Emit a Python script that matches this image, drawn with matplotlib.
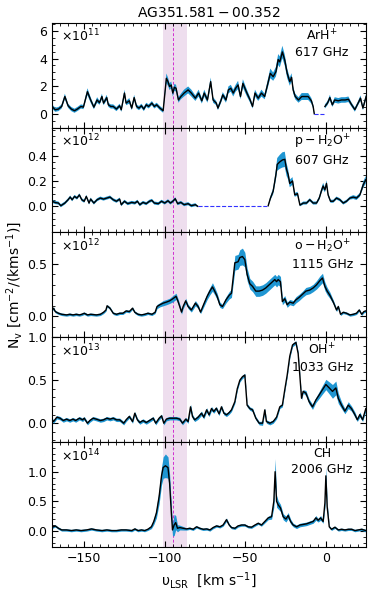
import numpy as np
import matplotlib
matplotlib.use('Agg')
import matplotlib.pyplot as plt
from matplotlib.ticker import MultipleLocator, AutoMinorLocator

# ---- ArH+ 617 GHz (x1e11) ----
v_arh = [-170, -168, -166, -164, -162, -160, -158, -156, -154, -152, -150.5, -148, -146, -144, -142,
         -140.5, -139, -138, -136, -135, -133.5, -132, -130, -128, -127, -125, -124, -122, -120.5, -119,
         -117.5, -116, -114.5, -113, -111.5, -110, -108, -106.5, -105, -103, -101, -99, -98, -97, -96,
         -95, -94, -93, -91.5, -90, -88, -85.5, -83.5, -81, -79, -77, -75.5, -73.5, -71.5, -70,
         -68, -67, -65, -64, -62, -60.5, -59, -57.5, -56, -54.5, -53, -51.5, -49, -47, -45.5,
         -44, -42, -40, -38, -36, -34.5, -32.7, -31, -29.6, -28.6, -27, -25.5, -24, -22.4, -21.3,
         -20.3, -19, -17, -15, -13, -11, -9, -7.9, -7.2, -4, -0.6, 1, 2.5, 4, 5.5,
         7.7, 9.7, 12, 14, 16, 18, 20, 21.5, 23, 25]
n_arh = [0.53, 0.29, 0.34, 0.53, 1.25, 0.58, 0.34, 0.22, 0.36, 0.53, 0.48, 1.6, 1.0, 0.48, 1.0,
         0.8, 1.25, 0.77, 1.17, 0.65, 0.53, 0.53, 0.34, 0.58, 0.29, 1.5, 0.77, 0.94, 0.41, 1.17,
         0.53, 0.41, 0.58, 0.34, 0.65, 0.53, 0.77, 0.53, 0.65, 0.41, 0.22, 2.57, 2.33, 1.97, 2.09,
         1.5, 1.92, 1.85, 1.0, 1.25, 1.5, 1.73, 1.5, 1.13, 1.5, 0.94, 1.5, 1.0, 2.33, 1.0,
         0.77, 0.41, 1.0, 1.37, 1.0, 1.73, 1.85, 1.5, 1.85, 2.09, 1.25, 2.2, 1.5, 1.0, 0.53,
         1.5, 1.13, 1.5, 1.25, 2.2, 2.93, 2.69, 3.05, 3.93, 3.76, 4.48, 3.88, 2.93, 2.33, 2.64,
         1.73, 1.25, 1.0, 1.25, 1.25, 1.25, 0.94, 0.53, 0.0, np.nan, 0.53, 0.77, 1.17, 0.65, 1.0,
         0.94, 1.0, 1.0, 1.05, 0.65, 0.3, 0.77, 1.13, 0.41, 1.25]
e_arh = [0.15, 0.15, 0.15, 0.15, 0.2, 0.15, 0.15, 0.15, 0.15, 0.15, 0.15, 0.25, 0.2, 0.15, 0.2,
         0.15, 0.2, 0.15, 0.2, 0.15, 0.15, 0.15, 0.15, 0.15, 0.15, 0.25, 0.15, 0.2, 0.15, 0.2,
         0.15, 0.15, 0.15, 0.15, 0.15, 0.15, 0.15, 0.15, 0.15, 0.15, 0.15, 0.35, 0.3, 0.25, 0.25,
         0.25, 0.25, 0.25, 0.2, 0.2, 0.25, 0.25, 0.25, 0.2, 0.25, 0.2, 0.25, 0.2, 0.3, 0.2,
         0.15, 0.15, 0.2, 0.2, 0.2, 0.25, 0.25, 0.25, 0.25, 0.3, 0.2, 0.3, 0.25, 0.2, 0.15,
         0.25, 0.2, 0.25, 0.2, 0.3, 0.35, 0.3, 0.35, 0.4, 0.4, 0.45, 0.4, 0.35, 0.3, 0.3,
         0.25, 0.2, 0.2, 0.25, 0.25, 0.25, 0.2, 0.15, 0.1, np.nan, 0.15, 0.15, 0.2, 0.15, 0.2,
         0.2, 0.2, 0.2, 0.2, 0.15, 0.15, 0.15, 0.2, 0.15, 0.2]

# ---- p-H2O+ 607 GHz (x1e12) ----
v_ph2o = [-170, -168, -166, -164.5, -162, -160, -158.7, -157.5, -156, -154.5, -153, -151.5, -150, -148.7, -147,
          -146, -144, -142, -140, -138, -136, -134, -132, -130, -128, -127, -125, -123, -120.5, -118.5,
          -117, -115.5, -113.5, -111.5, -109.5, -108, -106.5, -104, -102, -100, -98, -96.5, -95, -93.5, -92,
          -90, -88, -85.5, -83.5, -81, -79.5, -60, -35.8, -34.4, -32.7, -31, -30.2, -28.6, -27, -25.5,
          -24.4, -23.4, -22.4, -20.7, -19.3, -17.6, -16.1, -14, -12, -10, -7.9, -5.8, -4.1, -2.7, -1.7,
          -0.6, 0.4, 1.4, 2.9, 4.6, 6.6, 8.7, 10.8, 12.8, 14.9, 17, 19, 21.1, 23.2, 24.8]
n_ph2o = [0.04, 0.03, 0.026, 0.005, 0.026, 0.052, 0.073, 0.052, 0.078, 0.065, 0.09, 0.052, 0.04, 0.078, 0.026,
          0.057, 0.026, 0.052, 0.065, 0.057, 0.065, 0.073, 0.052, 0.04, 0.057, 0.013, 0.04, 0.021, 0.031, 0.026,
          0.04, 0.013, 0.031, 0.021, 0.04, 0.047, 0.026, 0.021, 0.04, 0.026, 0.044, 0.026, 0.04, 0.06, 0.021,
          0.031, 0.013, 0.021, 0.005, 0.013, 0.0, np.nan, 0.005, 0.065, 0.12, 0.25, 0.33, 0.35, 0.365, 0.37,
          0.29, 0.25, 0.18, 0.2, 0.09, 0.1, 0.01, 0.026, 0.026, 0.052, 0.026, 0.026, 0.065, 0.125, 0.16,
          0.13, 0.18, 0.09, 0.04, 0.04, 0.065, 0.052, 0.026, 0.04, 0.065, 0.073, 0.065, 0.09, 0.17, 0.21]
e_ph2o = [0.012] * 50 + [0.005, np.nan, 0.008, 0.015, 0.025, 0.04, 0.05, 0.055, 0.06, 0.06,
                         0.05, 0.04, 0.03, 0.03, 0.015, 0.015, 0.01, 0.012, 0.012, 0.012, 0.012, 0.012, 0.015, 0.02, 0.025,
                         0.02, 0.025, 0.015, 0.012, 0.012, 0.012, 0.012, 0.012, 0.012, 0.012, 0.015, 0.015, 0.015, 0.025, 0.03]

# ---- o-H2O+ 1115 GHz (x1e12) ----
v_oh2o = [-170, -169, -168, -166, -164, -161, -159, -157, -155, -153, -151.5, -150, -148, -146, -142.5,
          -140, -138, -136.5, -135.8, -134, -132, -130, -128, -126, -124, -122, -120, -118.6, -116.6, -114.5,
          -112.5, -110.5, -108, -106, -104.8, -103, -101, -99, -97, -95, -93, -91.7, -89.6, -88.6, -87,
          -85.5, -83.5, -81, -79.3, -77.8, -75.8, -73.7, -72, -70.4, -69, -67.5, -65.8, -64.2, -62, -60,
          -58.6, -56.5, -54.5, -53.4, -51.8, -50.3, -48.9, -47.2, -45.5, -43.5, -41.4, -39.3, -37.3, -35.2, -33.1,
          -31.7, -30.6, -29.6, -28.2, -27, -25.5, -24, -22.4, -20.3, -18.6, -16.6, -14.5, -12.4, -10, -7.9,
          -5.8, -3.7, -2.1, -0.6, 0.8, 2.5, 4.6, 6.6, 7.7, 9.1, 10.8, 12.8, 14.9, 17, 19,
          20.7, 22.2, 23.6, 24.8]
n_oh2o = [0.06, 0.077, 0.045, 0.029, 0.019, 0.013, 0.019, 0.013, 0.019, 0.013, 0.019, 0.029, 0.013, 0.019, 0.013,
          0.019, 0.038, 0.06, 0.1, 0.077, 0.029, 0.019, 0.029, 0.029, 0.051, 0.045, 0.077, 0.038, 0.019, 0.013,
          0.019, 0.029, 0.019, 0.038, 0.093, 0.11, 0.125, 0.135, 0.147, 0.167, 0.19, 0.14, 0.04, 0.093, 0.147,
          0.093, 0.06, 0.125, 0.093, 0.04, 0.115, 0.19, 0.24, 0.28, 0.24, 0.19, 0.11, 0.093, 0.157, 0.2,
          0.22, 0.51, 0.52, 0.56, 0.57, 0.54, 0.4, 0.31, 0.285, 0.24, 0.24, 0.25, 0.27, 0.3, 0.33,
          0.35, 0.33, 0.35, 0.33, 0.14, 0.167, 0.11, 0.135, 0.125, 0.157, 0.18, 0.21, 0.24, 0.25, 0.27,
          0.3, 0.34, 0.365, 0.285, 0.24, 0.2, 0.135, 0.06, 0.093, 0.019, 0.038, 0.029, 0.013, 0.019, 0.029,
          0.06, 0.019, 0.045, 0.051]
e_oh2o = [0.012] * 34 + [0.02, 0.02, 0.025, 0.025, 0.025, 0.03, 0.03, 0.025, 0.02, 0.02, 0.025,
                         0.02, 0.02, 0.025, 0.02, 0.015, 0.025, 0.03, 0.035, 0.04, 0.035, 0.03, 0.025, 0.02, 0.03, 0.035,
                         0.04, 0.07, 0.07, 0.075, 0.08, 0.07, 0.06, 0.05, 0.05, 0.05, 0.05, 0.05, 0.05, 0.05, 0.05,
                         0.05, 0.05, 0.05, 0.05, 0.03, 0.03, 0.025, 0.025, 0.025, 0.03, 0.03, 0.03, 0.035, 0.035, 0.035,
                         0.04, 0.045, 0.045, 0.04, 0.035, 0.03, 0.02, 0.015, 0.015, 0.012, 0.012, 0.012, 0.012, 0.012, 0.012,
                         0.012, 0.012, 0.012, 0.012]

# ---- OH+ 1033 GHz (x1e13) ----
v_ohp = [-170, -169, -167, -165, -163, -161, -159, -157, -155.3, -153, -151, -150, -148, -146.5, -144.5,
         -142.5, -140, -138, -136, -134, -132, -130, -128, -125.5, -124, -122, -120, -118.6, -117, -115.5,
         -113.5, -111.5, -109.5, -107.2, -105.6, -103.5, -102, -100.6, -99, -97, -95, -92.8, -90.7, -89, -87,
         -85.5, -84, -82.8, -81.4, -79.3, -77.2, -75.8, -74, -72.5, -71, -69.6, -68, -66.3, -64.8, -63.3,
         -61.7, -60, -58.6, -56.5, -55, -53.4, -51.8, -50.3, -48.9, -47.2, -45.5, -43.5, -41.4, -39.3, -37.9,
         -36.9, -34.8, -32.7, -30.6, -28.6, -27, -25.5, -24, -22.4, -20.7, -18.6, -17.2, -16.1, -15.1, -14.1,
         -12.4, -10.4, -8.3, -6.2, -4.1, -2.1, 0, 2.1, 4.1, 6.2, 7.7, 9.7, 11.8, 13.9, 15.9,
         18, 19.5, 21.1, 22.8, 24.8]
n_ohp = [0.04, 0.02, 0.07, 0.058, 0.031, 0.047, 0.031, 0.047, 0.031, 0.058, 0.039, 0.058, 0.0, 0.031, 0.058,
         0.047, 0.031, 0.039, 0.058, 0.047, 0.058, 0.039, 0.039, 0.0, 0.039, 0.078, 0.019, 0.116, 0.039, 0.008,
         0.031, 0.008, 0.031, 0.058, 0.0, 0.058, 0.085, 0.0, 0.047, 0.058, 0.058, 0.058, 0.047, 0.0, 0.047,
         0.019, 0.19, 0.078, 0.039, 0.07, 0.116, 0.07, 0.155, 0.097, 0.17, 0.136, 0.174, 0.109, 0.19, 0.116,
         0.097, 0.124, 0.155, 0.25, 0.4, 0.5, 0.54, 0.56, 0.21, 0.17, 0.155, 0.058, 0.0, 0.0, 0.155,
         0.019, 0.0, 0.019, 0.07, 0.19, 0.21, 0.39, 0.56, 0.78, 0.91, 0.94, 0.81, 0.54, 0.29, 0.37,
         0.35, 0.25, 0.19, 0.27, 0.33, 0.39, 0.45, 0.41, 0.37, 0.41, 0.29, 0.21, 0.14, 0.21, 0.17,
         0.1, 0.04, 0.1, 0.04, 0.17]
e_ohp = [0.02] * 45 + [0.02, 0.03, 0.025, 0.02, 0.025, 0.025, 0.02, 0.025, 0.02, 0.025, 0.02, 0.02, 0.02, 0.02, 0.02,
                       0.02, 0.02, 0.02, 0.02, 0.02, 0.02, 0.02, 0.02, 0.02, 0.02, 0.02, 0.02, 0.02, 0.025, 0.02,
                       0.02, 0.02, 0.02, 0.02, 0.02, 0.02, 0.02, 0.02, 0.02, 0.02, 0.02, 0.02, 0.02, 0.02, 0.02,
                       0.03, 0.03, 0.03, 0.03, 0.04, 0.05, 0.06, 0.07, 0.08, 0.08, 0.06, 0.04, 0.03, 0.04, 0.03,
                       0.03, 0.02, 0.03, 0.02, 0.03]

# ---- CH 2006 GHz (x1e14) ----
v_ch = [-170, -168, -166, -164, -161, -158, -155, -152, -148.5, -145.5, -142.5, -139, -136, -133, -130,
        -127, -124, -120.5, -118.6, -116.6, -114.5, -112.5, -110.5, -108.3, -106.8, -105.2, -103.5, -102, -101, -99.6,
        -98, -97, -95.9, -95.2, -94.2, -93.2, -92.1, -90.7, -88.6, -86.5, -84.5, -82.4, -80.3, -78.3, -76.2,
        -74, -72, -70, -67.9, -65.8, -63.8, -61.7, -60, -58.6, -56.5, -54.5, -52.4, -50.3, -48.2, -46.2,
        -44, -42, -40, -37.9, -35.8, -33.7, -32.3, -31.5, -30.6, -29.6, -28.2, -26.5, -24.8, -23.4, -21.9,
        -20.3, -18.2, -16.1, -14, -12, -10, -7.9, -6.2, -4.8, -3.3, -1.7, -0.6, 0, 0.8, 2.1,
        3.5, 5.6, 7.7, 9.7, 11.8, 13.9, 16, 18, 20.1, 22.2, 24.8]
n_ch = [0.06, 0.085, 0.045, 0.017, 0.017, 0.006, 0.017, 0.006, 0.017, 0.034, 0.017, 0.006, 0.017, 0.006, 0.006,
        0.017, 0.017, 0.006, 0.034, 0.006, 0.017, 0.006, 0.028, 0.07, 0.16, 0.3, 0.58, 0.93, 1.07, 1.1,
        1.07, 0.81, 0.3, 0.017, 0.1, 0.14, 0.045, 0.057, 0.045, 0.034, 0.045, 0.028, 0.07, 0.045, 0.028,
        0.034, 0.017, 0.057, 0.085, 0.07, 0.1, 0.19, 0.1, 0.057, 0.045, 0.085, 0.1, 0.1, 0.07, 0.063,
        0.1, 0.13, 0.1, 0.16, 0.22, 0.24, 0.5, 1.0, 0.5, 0.44, 0.39, 0.24, 0.2, 0.26, 0.16,
        0.1, 0.07, 0.1, 0.11, 0.12, 0.14, 0.16, 0.22, 0.18, 0.22, 0.16, 0.47, 0.93, 0.41, 0.07,
        0.028, 0.063, 0.017, 0.028, 0.017, 0.028, 0.028, 0.006, 0.017, 0.028, 0.006]
e_ch = [0.02] * 23 + [0.03, 0.05, 0.08, 0.12, 0.15, 0.18, 0.2,
                      0.18, 0.15, 0.12, 0.1, 0.18, 0.12, 0.06, 0.04, 0.03, 0.02, 0.02, 0.02, 0.02, 0.02, 0.02,
                      0.02, 0.02, 0.02, 0.02, 0.02, 0.02, 0.03, 0.02, 0.02, 0.02, 0.02, 0.02, 0.02, 0.02, 0.02,
                      0.02, 0.02, 0.02, 0.025, 0.03, 0.04, 0.1, 0.22, 0.1, 0.07, 0.06, 0.05, 0.05, 0.05, 0.04,
                      0.03, 0.03, 0.03, 0.03, 0.03, 0.03, 0.03, 0.04, 0.03, 0.04, 0.03, 0.08, 0.15, 0.07, 0.02,
                      0.02, 0.02, 0.02, 0.02, 0.02, 0.02, 0.02, 0.02, 0.02, 0.02, 0.02]

species = ['ArH$^{+}$\n617 GHz', '$p-H_2O^{+}$\n607 GHz', '$o-H_2O^{+}$\n1115 GHz',
           'OH$^{+}$\n1033 GHz', 'CH\n2006 GHz']
scales = [11, 12, 12, 13, 14]
ylims = [(-1.0, 6.6), (-0.205, 0.62), (-0.2, 0.8), (-0.22, 1.0), (-0.27, 1.5)]
yticks = [[0, 2, 4, 6], [0.0, 0.2, 0.4], [0.0, 0.5], [0.0, 0.5, 1.0], [0.0, 0.5, 1.0]]
panels = [(v_arh, n_arh, e_arh), (v_ph2o, n_ph2o, e_ph2o), (v_oh2o, n_oh2o, e_oh2o),
          (v_ohp, n_ohp, e_ohp), (v_ch, n_ch, e_ch)]

band = (-100.8, -86.3)
vsrc = -94.8

plt.rcParams['font.size'] = 9
plt.rcParams['mathtext.default'] = 'regular'

fig, axes = plt.subplots(5, 1, sharex=True, figsize=(3.74, 5.9), dpi=100)
fig.subplots_adjust(left=0.139, right=0.979, top=0.9615, bottom=0.073, hspace=0)

for i, ax in enumerate(axes):
    v, n, e = [np.array(a, dtype=float) for a in panels[i]]
    ax.fill_between(v, n - e, n + e, color='#1f96d2', lw=0, zorder=2)
    ax.plot(v, n, color='k', lw=1.0, zorder=3)
    # missing channels -> dashed blue at zero
    bad = np.where(np.isnan(n))[0]
    for b in bad:
        ax.plot([v[b - 1], v[b + 1]], [0, 0], color='#3333ff', ls='--', lw=0.8, zorder=3)
    ax.axvspan(band[0], band[1], color='purple', alpha=0.13, lw=0, zorder=1)
    ax.axvline(vsrc, color='#d030d0', ls=(0, (3, 2)), lw=0.7, zorder=1)
    ax.set_ylim(*ylims[i])
    ax.set_yticks(yticks[i])
    ax.yaxis.set_minor_locator(AutoMinorLocator())
    ax.xaxis.set_major_locator(MultipleLocator(50))
    ax.xaxis.set_minor_locator(MultipleLocator(5))
    ax.tick_params(which='both', direction='in', top=True, right=True, labelsize=9)
    ax.tick_params(which='major', length=4)
    ax.tick_params(which='minor', length=2)
    ax.text(0.03, 0.95, r'$\times10^{%d}$' % scales[i], transform=ax.transAxes,
            ha='left', va='top', fontsize=9)
    ax.text(0.86, 0.95, species[i], transform=ax.transAxes, ha='center', va='top',
            multialignment='center', fontsize=9, linespacing=1.3)

axes[0].set_xlim(-170, 25)
axes[0].set_title('$AG351.581-00.352$', fontsize=10, pad=4)
axes[-1].set_xlabel(r'$\upsilon_{\rm LSR}$  [km s$^{-1}$]', fontsize=10)
fig.text(0.04, 0.517, r'N$_{\rm v}$ [cm$^{-2}$/(kms$^{-1}$)]', rotation=90,
         ha='center', va='center', fontsize=10)

fig.savefig('out.png', dpi=100)
